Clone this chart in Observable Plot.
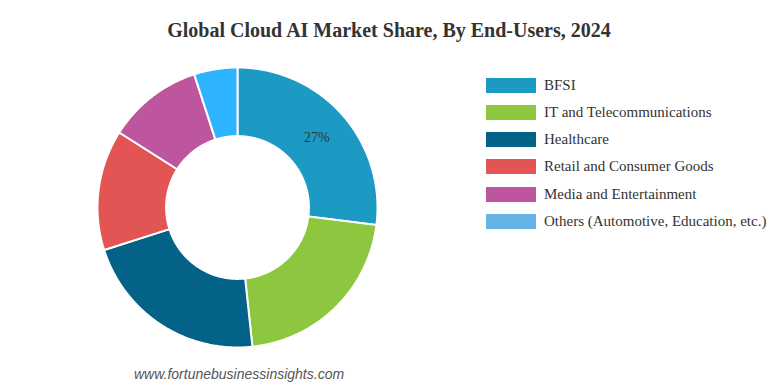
<!DOCTYPE html>
<html>
<head>
<meta charset="utf-8">
<script src="https://cdn.jsdelivr.net/npm/d3@7"></script>
<script src="https://cdn.jsdelivr.net/npm/@observablehq/plot@0.6"></script>
<style>
  html, body { margin: 0; padding: 0; background: #fff; }
  #wrap { position: relative; width: 778px; height: 388px; overflow: hidden; }
  #chart { position: absolute; left: 0; top: 0; }
  #title { position: absolute; left: 0; width: 778px; top: 19px; text-align: center;
           font: bold 20px "Liberation Serif", serif; color: #333; }
  #legend { position: absolute; left: 486px; top: 71.4px; }
  .row { display: flex; align-items: center; height: 27.3px; margin: 0; }
  .sw { width: 50px; height: 15px; margin-right: 8px; }
  .lab { font: 15px "Liberation Serif", serif; color: #333; white-space: nowrap; }
  #src { position: absolute; left: 134px; top: 366px; font: italic 14px "Liberation Sans", Arial, sans-serif; color: #555; }
</style>
</head>
<body>
<div id="wrap">
  <div id="chart"></div>
  <div id="title">Global Cloud AI Market Share, By End-Users, 2024</div>
  <div id="legend"></div>
  <div id="src">www.fortunebusinessinsights.com</div>
</div>
<script>
const categories = ["BFSI", "IT and Telecommunications", "Healthcare", "Retail and Consumer Goods", "Media and Entertainment", "Others (Automotive, Education, etc.)"];
const shares = [27, 21.3, 21.8, 13.9, 11.0, 5.0];
const sliceColors = ["#1c9ac4", "#8dc63f", "#046289", "#e35454", "#bd569e", "#2eb3ff"];
const legendColors = ["#1c9ac4", "#8dc63f", "#046289", "#e35454", "#bd569e", "#64b5e6"];
const shownLabels = ["27%", "", "", "", "", ""];

// layout
const W = 778, H = 388, cx = 237, cy = 207, R = 140, innerRatio = 0.51;

const total = d3.sum(shares);
const pts = [];
let acc = 0;
const labels = [];
shares.forEach((v, i) => {
  const a0 = acc / total * 2 * Math.PI;
  acc += v;
  const a1 = acc / total * 2 * Math.PI;
  const n = Math.max(8, Math.ceil((a1 - a0) / 0.01));
  for (let k = 0; k <= n; k++) {
    const a = a0 + (a1 - a0) * k / n;
    pts.push({cat: categories[i], x: Math.sin(a), y: Math.cos(a)});
  }
  for (let k = n; k >= 0; k--) {
    const a = a0 + (a1 - a0) * k / n;
    pts.push({cat: categories[i], x: innerRatio * Math.sin(a), y: innerRatio * Math.cos(a)});
  }
  const am = (a0 + a1) / 2, rm = (1 + innerRatio) / 2;
  labels.push({text: shownLabels[i], x: rm * Math.sin(am), y: rm * Math.cos(am)});
});

const chart = Plot.plot({
  width: W, height: H,
  margin: 0,
  x: {domain: [-1, 1], range: [cx - R, cx + R], axis: null},
  y: {domain: [-1, 1], range: [cy + R, cy - R], axis: null},
  color: {domain: categories, range: sliceColors},
  marks: [
    Plot.line(pts, {x: "x", y: "y", z: "cat", fill: "cat", stroke: "white", strokeWidth: 2, curve: "linear-closed"}),
    Plot.text(labels.filter(d => d.text), {x: "x", y: "y", text: "text", fill: "#333", fontSize: 14, fontFamily: "Liberation Serif, serif"})
  ]
});
document.getElementById("chart").appendChild(chart);

const leg = document.getElementById("legend");
categories.forEach((c, i) => {
  const row = document.createElement("div");
  row.className = "row";
  const sw = document.createElement("div");
  sw.className = "sw";
  sw.style.background = legendColors[i];
  const lab = document.createElement("div");
  lab.className = "lab";
  lab.textContent = c;
  row.appendChild(sw); row.appendChild(lab);
  leg.appendChild(row);
});
</script>
</body>
</html>
